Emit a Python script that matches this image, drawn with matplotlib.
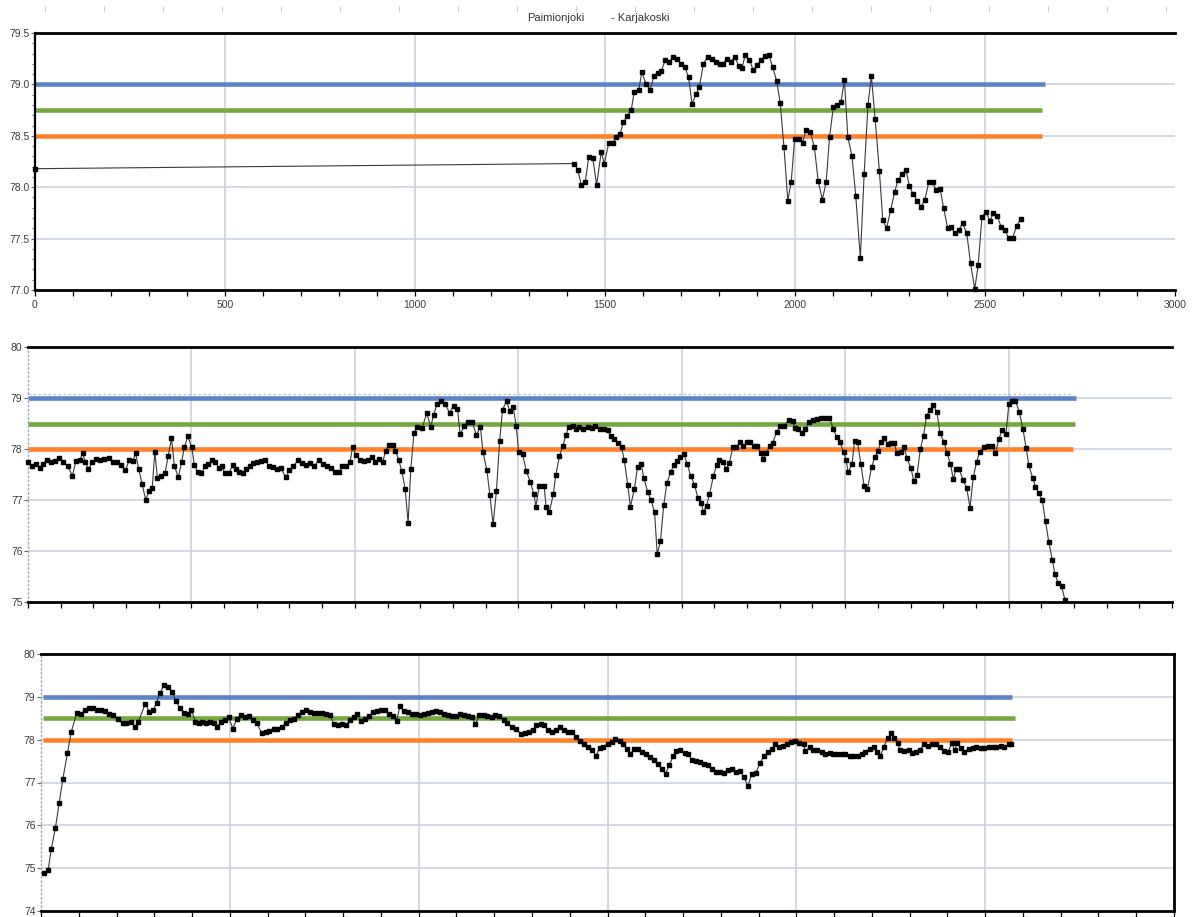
import matplotlib
matplotlib.use("Agg")
import matplotlib.pyplot as plt
from matplotlib.ticker import MultipleLocator, FormatStrFormatter

plt.rcParams['font.family'] = ['Liberation Sans', 'DejaVu Sans']

# ---------------------------------------------------------------- data
station_left = "Paimionjoki"
station_right = "- Karjakoski"

top_x = [0, 1419, 1428, 1438, 1448, 1457, 1468, 1478, 1490, 1498,
         1510, 1520, 1529, 1540, 1548, 1558, 1569, 1577, 1589, 1597,
         1608, 1619, 1629, 1640, 1648, 1659, 1669, 1680, 1690, 1700,
         1710, 1720, 1729, 1740, 1748, 1759, 1770, 1782, 1792, 1803,
         1811, 1820, 1831, 1841, 1852, 1861, 1869, 1880, 1890, 1901,
         1911, 1922, 1931, 1941, 1952, 1961, 1971, 1981, 1990, 1999,
         2010, 2020, 2029, 2040, 2051, 2061, 2072, 2082, 2091, 2101,
         2111, 2121, 2130, 2139, 2150, 2160, 2172, 2182, 2192, 2201,
         2211, 2222, 2231, 2241, 2252, 2262, 2271, 2282, 2292, 2301,
         2311, 2322, 2332, 2342, 2352, 2362, 2371, 2382, 2391, 2402,
         2411, 2421, 2431, 2441, 2452, 2462, 2473, 2482, 2492, 2503,
         2513, 2522, 2532, 2543, 2552, 2562, 2573, 2583, 2594]
top_y = [78.18, 78.23, 78.17, 78.02, 78.05, 78.29, 78.28, 78.02, 78.34, 78.23,
         78.43, 78.43, 78.49, 78.52, 78.63, 78.69, 78.75, 78.93, 78.95, 79.12,
         79.00, 78.95, 79.08, 79.11, 79.13, 79.24, 79.22, 79.27, 79.25, 79.20,
         79.17, 79.07, 78.81, 78.91, 78.97, 79.20, 79.27, 79.25, 79.22, 79.20,
         79.20, 79.25, 79.22, 79.27, 79.18, 79.16, 79.29, 79.24, 79.14, 79.19,
         79.24, 79.28, 79.29, 79.17, 79.03, 78.82, 78.39, 77.87, 78.05, 78.47,
         78.47, 78.43, 78.56, 78.54, 78.39, 78.06, 77.88, 78.05, 78.49, 78.78,
         78.80, 78.83, 79.04, 78.49, 78.30, 77.91, 77.31, 78.13, 78.80, 79.08,
         78.66, 78.16, 77.68, 77.60, 77.78, 77.95, 78.07, 78.13, 78.17, 78.01,
         77.93, 77.87, 77.81, 77.88, 78.05, 78.05, 77.97, 77.98, 77.80, 77.60,
         77.61, 77.55, 77.58, 77.65, 77.55, 77.26, 77.01, 77.24, 77.71, 77.76,
         77.67, 77.75, 77.72, 77.61, 77.58, 77.51, 77.51, 77.62, 77.69]

mid_x = [1, 13, 24, 36, 46, 58, 71, 83, 95, 108,
         121, 136, 147, 159, 167, 175, 185, 196, 208, 220,
         234, 247, 259, 271, 284, 298, 310, 321, 329, 339,
         349, 360, 370, 380, 388, 396, 407, 419, 429, 439,
         448, 460, 470, 478, 489, 501, 509, 519, 530, 542,
         552, 562, 573, 583, 593, 603, 614, 626, 636, 646,
         657, 667, 679, 689, 702, 714, 726, 737, 749, 761,
         773, 788, 800, 812, 827, 839, 851, 864, 876, 890,
         903, 915, 927, 939, 952, 962, 974, 985, 993, 1003,
         1015, 1027, 1040, 1052, 1062, 1074, 1085, 1095, 1103, 1116,
         1124, 1134, 1144, 1154, 1163, 1171, 1181, 1191, 1206, 1220,
         1232, 1241, 1251, 1263, 1275, 1290, 1302, 1314, 1322, 1335,
         1347, 1359, 1372, 1384, 1392, 1404, 1413, 1423, 1433, 1443,
         1452, 1464, 1474, 1484, 1494, 1501, 1513, 1525, 1537, 1548,
         1554, 1564, 1579, 1585, 1595, 1607, 1615, 1626, 1636, 1646,
         1654, 1667, 1677, 1687, 1699, 1712, 1724, 1736, 1749, 1761,
         1773, 1783, 1794, 1804, 1816, 1824, 1835, 1843, 1855, 1865,
         1876, 1884, 1896, 1906, 1917, 1925, 1935, 1945, 1955, 1966,
         1976, 1986, 1996, 2006, 2017, 2027, 2039, 2050, 2060, 2066,
         2076, 2085, 2097, 2107, 2115, 2126, 2136, 2146, 2156, 2166,
         2177, 2189, 2199, 2209, 2220, 2230, 2242, 2249, 2259, 2269,
         2279, 2290, 2302, 2314, 2327, 2339, 2347, 2357, 2368, 2378,
         2390, 2402, 2415, 2427, 2439, 2452, 2464, 2474, 2484, 2495,
         2503, 2509, 2521, 2529, 2538, 2548, 2558, 2568, 2581, 2591,
         2601, 2609, 2619, 2630, 2640, 2650, 2658, 2671, 2681, 2689,
         2701, 2710, 2720, 2730, 2740, 2749, 2759, 2769, 2781, 2790,
         2802, 2812, 2822, 2831, 2839, 2849, 2861, 2872, 2882, 2892,
         2902, 2912, 2925, 2937, 2949, 2960, 2970, 2980, 2992, 3001,
         3011, 3021, 3033, 3044, 3054, 3062, 3074, 3082, 3093, 3103,
         3113, 3123, 3134, 3142, 3152, 3162, 3173]
mid_y = [77.74, 77.66, 77.71, 77.63, 77.71, 77.79, 77.74, 77.77, 77.82, 77.75,
         77.66, 77.48, 77.77, 77.79, 77.92, 77.75, 77.60, 77.74, 77.81, 77.79,
         77.81, 77.82, 77.75, 77.74, 77.68, 77.58, 77.79, 77.77, 77.92, 77.60,
         77.32, 77.00, 77.17, 77.24, 77.94, 77.43, 77.48, 77.52, 77.86, 78.21,
         77.66, 77.45, 77.74, 78.03, 78.25, 78.03, 77.69, 77.54, 77.52, 77.66,
         77.71, 77.79, 77.75, 77.63, 77.66, 77.52, 77.52, 77.68, 77.61, 77.55,
         77.52, 77.61, 77.66, 77.73, 77.75, 77.77, 77.79, 77.66, 77.65, 77.60,
         77.63, 77.45, 77.58, 77.66, 77.79, 77.73, 77.68, 77.73, 77.66, 77.79,
         77.71, 77.66, 77.63, 77.55, 77.55, 77.66, 77.66, 77.74, 78.03, 77.88,
         77.79, 77.77, 77.79, 77.84, 77.75, 77.81, 77.75, 77.97, 78.08, 78.08,
         77.97, 77.79, 77.56, 77.21, 76.55, 77.60, 78.32, 78.44, 78.42, 78.70,
         78.44, 78.66, 78.89, 78.95, 78.89, 78.71, 78.85, 78.79, 78.29, 78.45,
         78.53, 78.53, 78.27, 78.44, 77.94, 77.58, 77.10, 76.52, 77.17, 78.16,
         78.77, 78.94, 78.74, 78.83, 78.45, 77.94, 77.90, 77.56, 77.35, 77.11,
         76.87, 77.28, 77.28, 76.87, 76.76, 77.11, 77.50, 77.86, 78.06, 78.27,
         78.44, 78.45, 78.40, 78.44, 78.40, 78.44, 78.42, 78.45, 78.40, 78.39,
         78.37, 78.25, 78.19, 78.12, 78.03, 77.79, 77.29, 76.87, 77.21, 77.65,
         77.71, 77.43, 77.16, 77.00, 76.76, 75.94, 76.19, 76.90, 77.34, 77.54,
         77.69, 77.77, 77.84, 77.90, 77.71, 77.48, 77.30, 77.03, 76.95, 76.76,
         76.89, 77.11, 77.47, 77.69, 77.79, 77.74, 77.61, 77.73, 78.03, 78.03,
         78.13, 78.06, 78.13, 78.14, 78.06, 78.06, 77.92, 77.81, 77.92, 78.06,
         78.12, 78.34, 78.45, 78.45, 78.57, 78.55, 78.42, 78.40, 78.31, 78.40,
         78.53, 78.57, 78.59, 78.61, 78.61, 78.61, 78.39, 78.23, 78.13, 77.95,
         77.79, 77.54, 77.71, 78.16, 78.13, 77.71, 77.28, 77.21, 77.65, 77.84,
         77.97, 78.13, 78.21, 78.10, 78.12, 78.12, 77.92, 77.94, 78.03, 77.82,
         77.63, 77.37, 77.50, 78.00, 78.26, 78.65, 78.76, 78.87, 78.72, 78.31,
         78.14, 77.92, 77.71, 77.41, 77.60, 77.60, 77.39, 77.23, 76.85, 77.45,
         77.74, 77.95, 78.03, 78.05, 78.06, 77.92, 78.19, 78.37, 78.29, 78.89,
         78.95, 78.95, 78.72, 78.39, 78.01, 77.68, 77.43, 77.26, 77.13, 77.00,
         76.58, 76.18, 75.82, 75.54, 75.37, 75.31, 75.03]

bot_x = [7, 19, 27, 38, 48, 58, 70, 80, 95, 106,
         117, 127, 138, 149, 159, 170, 180, 191, 203, 216,
         226, 239, 248, 258, 276, 287, 297, 306, 315, 326,
         336, 347, 357, 368, 379, 389, 398, 409, 418, 426,
         437, 448, 457, 467, 476, 487, 497, 508, 519, 529,
         540, 550, 561, 572, 584, 595, 605, 616, 626, 637,
         648, 658, 669, 680, 690, 701, 711, 722, 733, 743,
         754, 765, 775, 786, 796, 807, 818, 828, 837, 848,
         858, 869, 880, 890, 901, 911, 922, 933, 942, 950,
         961, 972, 982, 993, 1004, 1014, 1025, 1035, 1046, 1057,
         1067, 1078, 1088, 1099, 1110, 1120, 1131, 1142, 1150, 1161,
         1172, 1182, 1193, 1203, 1214, 1225, 1235, 1246, 1257, 1270,
         1281, 1292, 1302, 1312, 1323, 1332, 1343, 1353, 1364, 1374,
         1385, 1396, 1406, 1417, 1428, 1438, 1449, 1459, 1470, 1479,
         1489, 1500, 1511, 1521, 1532, 1541, 1551, 1560, 1571, 1582,
         1592, 1603, 1613, 1624, 1635, 1645, 1654, 1663, 1674, 1682,
         1693, 1704, 1714, 1723, 1734, 1744, 1755, 1766, 1776, 1787,
         1797, 1808, 1819, 1829, 1840, 1851, 1861, 1872, 1882, 1893,
         1904, 1914, 1925, 1936, 1944, 1955, 1966, 1976, 1987, 1997,
         2008, 2019, 2024, 2035, 2045, 2056, 2067, 2077, 2088, 2098,
         2109, 2120, 2130, 2141, 2151, 2162, 2173, 2183, 2194, 2205,
         2213, 2222, 2231, 2242, 2251, 2259, 2268, 2275, 2286, 2297,
         2305, 2316, 2327, 2337, 2348, 2359, 2369, 2380, 2390, 2401,
         2412, 2419, 2426, 2436, 2445, 2456, 2467, 2477, 2488, 2498,
         2509, 2520, 2530, 2541, 2551, 2562, 2569]
bot_y = [74.89, 74.95, 75.44, 75.93, 76.51, 77.09, 77.69, 78.18, 78.63, 78.60,
         78.69, 78.74, 78.73, 78.69, 78.69, 78.67, 78.61, 78.57, 78.49, 78.38,
         78.39, 78.42, 78.30, 78.42, 78.84, 78.65, 78.69, 78.86, 79.09, 79.27,
         79.22, 79.12, 78.91, 78.73, 78.63, 78.60, 78.69, 78.42, 78.38, 78.42,
         78.39, 78.42, 78.39, 78.30, 78.42, 78.46, 78.52, 78.26, 78.49, 78.57,
         78.52, 78.55, 78.46, 78.38, 78.16, 78.18, 78.21, 78.24, 78.26, 78.30,
         78.39, 78.46, 78.49, 78.57, 78.65, 78.69, 78.65, 78.63, 78.63, 78.63,
         78.61, 78.57, 78.36, 78.34, 78.36, 78.34, 78.46, 78.52, 78.61, 78.44,
         78.49, 78.55, 78.65, 78.67, 78.69, 78.70, 78.61, 78.55, 78.44, 78.78,
         78.67, 78.65, 78.61, 78.60, 78.57, 78.60, 78.63, 78.65, 78.67, 78.65,
         78.61, 78.57, 78.55, 78.55, 78.60, 78.57, 78.55, 78.52, 78.36, 78.57,
         78.57, 78.55, 78.53, 78.57, 78.55, 78.46, 78.39, 78.30, 78.26, 78.13,
         78.15, 78.18, 78.22, 78.34, 78.37, 78.34, 78.22, 78.17, 78.22, 78.30,
         78.22, 78.19, 78.17, 78.07, 77.96, 77.89, 77.82, 77.76, 77.63, 77.81,
         77.84, 77.90, 77.94, 78.02, 77.98, 77.89, 77.79, 77.66, 77.79, 77.79,
         77.71, 77.66, 77.60, 77.53, 77.43, 77.31, 77.21, 77.40, 77.61, 77.73,
         77.76, 77.69, 77.66, 77.53, 77.50, 77.48, 77.44, 77.40, 77.31, 77.25,
         77.25, 77.23, 77.29, 77.31, 77.25, 77.27, 77.12, 76.92, 77.20, 77.23,
         77.46, 77.61, 77.71, 77.79, 77.89, 77.84, 77.86, 77.90, 77.94, 77.96,
         77.92, 77.89, 77.73, 77.82, 77.76, 77.75, 77.71, 77.66, 77.69, 77.67,
         77.67, 77.66, 77.66, 77.63, 77.63, 77.61, 77.66, 77.71, 77.79, 77.82,
         77.71, 77.61, 77.82, 78.04, 78.15, 78.05, 77.92, 77.75, 77.73, 77.76,
         77.69, 77.71, 77.76, 77.89, 77.86, 77.89, 77.90, 77.82, 77.73, 77.71,
         77.92, 77.75, 77.92, 77.81, 77.71, 77.79, 77.81, 77.82, 77.81, 77.81,
         77.82, 77.82, 77.84, 77.86, 77.82, 77.89, 77.90]

# reference levels per panel and where each level line stops
top_levels = [79.0, 78.75, 78.5]
top_level_ends = [2658, 2650, 2650]
mid_levels = [79.0, 78.5, 78.0]
mid_level_ends = [3206, 3203, 3197]
mid_upper_guide = 79.08
mid_upper_guide_end = 3194
bot_levels = [79.0, 78.5, 78.0]
bot_level_ends = [2571, 2579, 2571]

# ---------------------------------------------------------------- style
LEVEL_COLORS = ['#5B84C6', '#74A93F', '#FF8129']
GRID = '#CBD2E0'
LABEL = '#3C3C3C'

W, H = 1192, 917
fig = plt.figure(figsize=(W / 100, H / 100), dpi=100)
fig.patch.set_facecolor('white')


def box(left, top, right, bottom):
    return [left / W, 1 - bottom / H, (right - left) / W, (bottom - top) / H]


def panel(rect, xs, ys, xmax, ylim, ystep, yfmt, levels, ends,
          solid_left=False, xlabels=False, right_spine=False, level_start=0):
    ax = fig.add_axes(rect)
    ax.set_xlim(0, xmax)
    ax.set_ylim(*ylim)
    ax.xaxis.set_major_locator(MultipleLocator(500))
    ax.xaxis.set_minor_locator(MultipleLocator(100))
    ax.yaxis.set_major_locator(MultipleLocator(ystep))
    ax.yaxis.set_major_formatter(FormatStrFormatter(yfmt))

    # grid drawn by hand so the right-hand frame edge stays open
    xv = 500
    while xv < xmax:
        ax.axvline(xv, color=GRID, lw=1.2, zorder=0)
        xv += 500
    yv = ylim[0] + ystep
    while yv < ylim[1] - 1e-9:
        ax.axhline(yv, color=GRID, lw=1.2, zorder=0)
        yv += ystep

    for lev, end, col in zip(levels, ends, LEVEL_COLORS):
        ax.hlines(lev, level_start, end, colors=col, lw=3.3, zorder=2)

    ax.plot(xs, ys, color='#3A3A3A', lw=0.8, marker='s', ms=2.9,
            mfc='black', mec='black', zorder=4, clip_on=False)

    for side in ('top', 'bottom'):
        ax.spines[side].set_color('black')
        ax.spines[side].set_linewidth(2.0)
    if solid_left:
        ax.spines['left'].set_color('black')
        ax.spines['left'].set_linewidth(1.6)
    else:
        ax.spines['left'].set_color('#9EA9C2')
        ax.spines['left'].set_linewidth(1.0)
        ax.spines['left'].set_linestyle((0, (1, 2)))
    if right_spine:
        ax.spines['right'].set_color('black')
        ax.spines['right'].set_linewidth(2.0)
    else:
        ax.spines['right'].set_visible(False)

    ax.tick_params(axis='x', which='both', direction='out', length=4,
                   width=0.9, color='black', labelbottom=xlabels,
                   labelsize=7.5, labelcolor=LABEL, pad=3)
    ax.tick_params(axis='y', which='major', direction='out', length=3,
                   width=0.8, color='#666666', labelsize=7.5,
                   labelcolor=LABEL, pad=1)
    return ax


ax_top = panel(box(35, 33, 1175, 290), top_x, top_y, 3000, (77.0, 79.5),
               0.5, '%.1f', top_levels, top_level_ends,
               solid_left=True, xlabels=True)
ax_top.yaxis.set_minor_locator(MultipleLocator(0.1))
ax_top.tick_params(axis='y', which='minor', direction='out', length=2,
                   width=0.6, color='#555555')
ax_top.xaxis.set_major_formatter(FormatStrFormatter('%d'))

ax_mid = panel(box(28, 347, 1172, 602), mid_x, mid_y, 3500, (75, 80),
               1, '%d', mid_levels, mid_level_ends)
ax_mid.hlines(mid_upper_guide, 0, mid_upper_guide_end, colors='#B4C0D8',
              lw=0.9, linestyles=(0, (2, 2)), zorder=1)

ax_bot = panel(box(41, 654, 1174, 911), bot_x, bot_y, 3000, (74, 80),
               1, '%d', bot_levels, bot_level_ends, right_spine=True,
               level_start=5)

# faint tick row left at the very top of the sheet
ax_strip = fig.add_axes(box(45, 0, 1166, 6))
ax_strip.set_xlim(0, 19)
ax_strip.set_xticks(range(20))
ax_strip.set_yticks([])
ax_strip.tick_params(axis='x', direction='out', length=4, width=0.8,
                     color='#CFCFCF', labelbottom=False)
for s in ax_strip.spines.values():
    s.set_visible(False)
ax_strip.patch.set_visible(False)

fig.text(527 / W, 1 - 18 / H, station_left, ha='left', va='center',
         fontsize=8, color='#333333')
fig.text(611 / W, 1 - 18 / H, station_right, ha='left', va='center',
         fontsize=8, color='#333333')

fig.savefig('out.png', dpi=100)
